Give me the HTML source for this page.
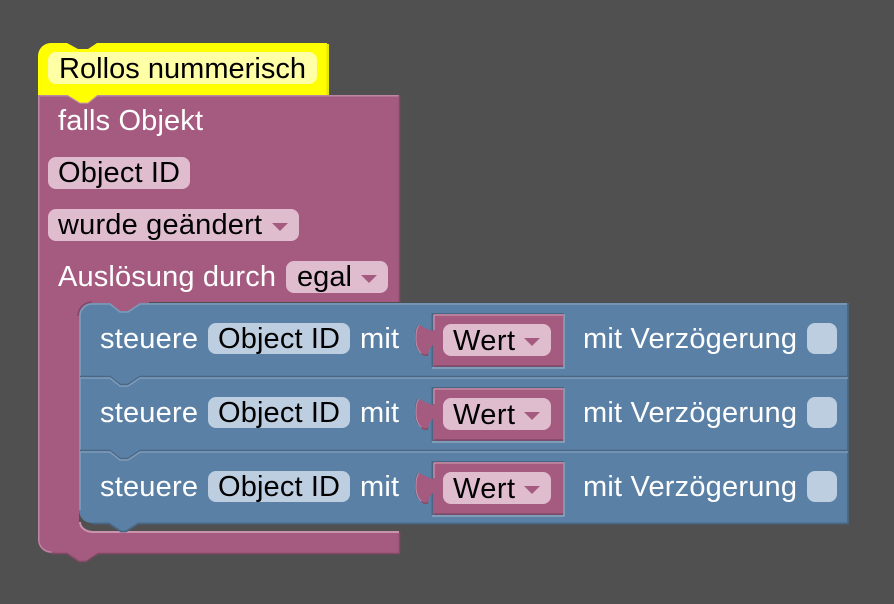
<!DOCTYPE html>
<html><head><meta charset="utf-8"><style>
html,body{margin:0;padding:0;background:#505050;width:894px;height:604px;overflow:hidden}
svg{display:block}
text{font-family:"Liberation Sans",sans-serif;font-size:29px}
.w{fill:#fff}.k{fill:#000}
</style></head><body>
<svg width="894" height="604" viewBox="0 0 894 604" xmlns="http://www.w3.org/2000/svg">
<rect width="894" height="604" fill="#505050"/>

<!-- pink C block -->
<path d="M38 95 H399 V302 H92 a13 13 0 0 0 -13 13 V522 a13 10 0 0 0 13 10 H399 V553 H98 l-12 8 h-7 l-12-8 H51 a13 13 0 0 1 -13-13 Z" fill="#a55b80"/>
<rect x="79" y="301" width="70" height="16" fill="#a55b80"/>
<path d="M38.8 540 V95.8 H399" fill="none" stroke="#bb88a2" stroke-width="1.5"/>
<path d="M399.5 95 V302 M399.5 532 V553.5 H98 l-12 8 h-7 l-12-8 H51" fill="none" stroke="#844966" stroke-width="1.6"/>
<path d="M38.8 540 a12.5 12.5 0 0 0 12.5 12" fill="none" stroke="#bb88a2" stroke-width="1.4"/>
<path d="M80 522 a13 10 0 0 0 13 10 H399" fill="none" stroke="#c992ad" stroke-width="2"/>

<!-- hat block -->
<path d="M38 95 V56 a13 13 0 0 1 13-13 H67 l11 6 h10 l9-6 H327 V95 H98 l-10 8 h-8 l-13-8 Z" fill="#ffff00"/>
<path d="M326.5 44 H329 V95 H326.5 Z" fill="#e6e600"/>
<path d="M67 95.2 l13 8 h8 l10-8" fill="none" stroke="#c08da6" stroke-width="1.2"/>
<rect x="48" y="52" width="269" height="32" rx="8" fill="#ffffa6"/>
<text x="59" y="78" class="k" textLength="247">Rollos nummerisch</text>

<text x="58" y="130" class="w" textLength="145">falls Objekt</text>

<rect x="48" y="157" width="142" height="32" rx="8" fill="#e0bdce"/>
<text x="58" y="182" class="k" textLength="122">Object ID</text>

<rect x="48" y="209" width="251" height="32" rx="8" fill="#e0bdce"/>
<text x="58" y="234" class="k" textLength="204">wurde geändert</text>
<path d="M272 223 h16 l-8 8 Z" fill="#a55b80"/>

<text x="58" y="286" class="w" textLength="218">Auslösung durch</text>
<rect x="286" y="261" width="102" height="32" rx="8" fill="#e0bdce"/>
<text x="297" y="286" class="k" textLength="55">egal</text>
<path d="M361 275 h16 l-8 8 Z" fill="#a55b80"/>

<!-- blue stack -->
<path d="M78 316 a14 14 0 0 1 14-14" fill="none" stroke="#844966" stroke-width="1.6"/>
<path d="M79 316 a13 13 0 0 1 13-13 H110 l10 8 h8 l12-8 H848 V523 H138 l-12 8 h-5 l-12-8 H92 a13 13 0 0 1 -13-13 Z" fill="#5b80a5"/>
<path d="M80 510 V316 a12 12 0 0 1 12-12 H110 l10 8 h8 l12-8 H847" fill="none" stroke="#7f9bb9" stroke-width="1.6"/>
<path d="M848 303 V523.5 H138 l-12 8 h-5 l-12-8 H92" fill="none" stroke="#496684" stroke-width="1.8"/>
<!-- separators -->
<path d="M80 376.5 H110 l10 8 h8 l12-8 H848" fill="none" stroke="#496684" stroke-width="1.6"/>
<path d="M80 378 H110 l10 8 h8 l12-8 H848" fill="none" stroke="#7f9bb9" stroke-width="1.6"/>
<path d="M80 450.5 H110 l10 8 h8 l12-8 H848" fill="none" stroke="#496684" stroke-width="1.6"/>
<path d="M80 452 H110 l10 8 h8 l12-8 H848" fill="none" stroke="#7f9bb9" stroke-width="1.6"/>

<defs>
<g id="row">
  <text x="100" y="348" class="w" textLength="98">steuere</text>
  <rect x="208" y="323" width="142" height="31" rx="8" fill="#bdcee0"/>
  <text x="218" y="348" class="k" textLength="122">Object ID</text>
  <text x="360" y="348" class="w" textLength="39">mit</text>
  <!-- value socket edges -->
  <rect x="431.5" y="313" width="132.5" height="54" fill="#496684"/>
  <path d="M432 368 H564 V314" fill="none" stroke="#8ca6c0" stroke-width="1.5"/>
  <!-- tab shadow -->
  <path d="M433 331 L429 330 L419 325 C416 329 416 334 416 340 C416 347 418 351 422 354 C424 355.5 427 356 428 354 C429 350 431 346 433 344 Z" fill="#496684" transform="translate(-1,-0.5)"/>
  <rect x="433" y="314" width="130" height="52.5" fill="#a55b80"/>
  <!-- output tab -->
  <path d="M434 331 L429 330 L419 325 C416 329 416 334 416 340 C416 347 418 351 422 354 C424 355.5 427 356 428 354 C429 350 431 346 434 344 Z" fill="#a55b80"/>
  <path d="M419 325 C416 329 416 334 416 340 C416 346 418 350 421 353" fill="none" stroke="#c08da6" stroke-width="1"/>
  <path d="M422 354 C424 355.5 427 356 428 354" fill="none" stroke="#844966" stroke-width="1.4"/>
  <path d="M434 315 H563 M434 315 V330" fill="none" stroke="#c08da6" stroke-width="1.5"/>
  <path d="M434 366 H563" fill="none" stroke="#844966" stroke-width="1.5"/>
  <rect x="443" y="324" width="108" height="32" rx="8" fill="#e0bdce"/>
  <text x="453" y="350" class="k" textLength="62">Wert</text>
  <path d="M524 338 h16 l-8 8 Z" fill="#a55b80"/>
  <text x="583" y="348" class="w" textLength="214">mit Verzögerung</text>
  <rect x="807" y="323" width="30" height="31" rx="8" fill="#bdcee0"/>
</g>
</defs>
<use href="#row"/>
<use href="#row" y="74"/>
<use href="#row" y="148"/>
</svg>
</body></html>
